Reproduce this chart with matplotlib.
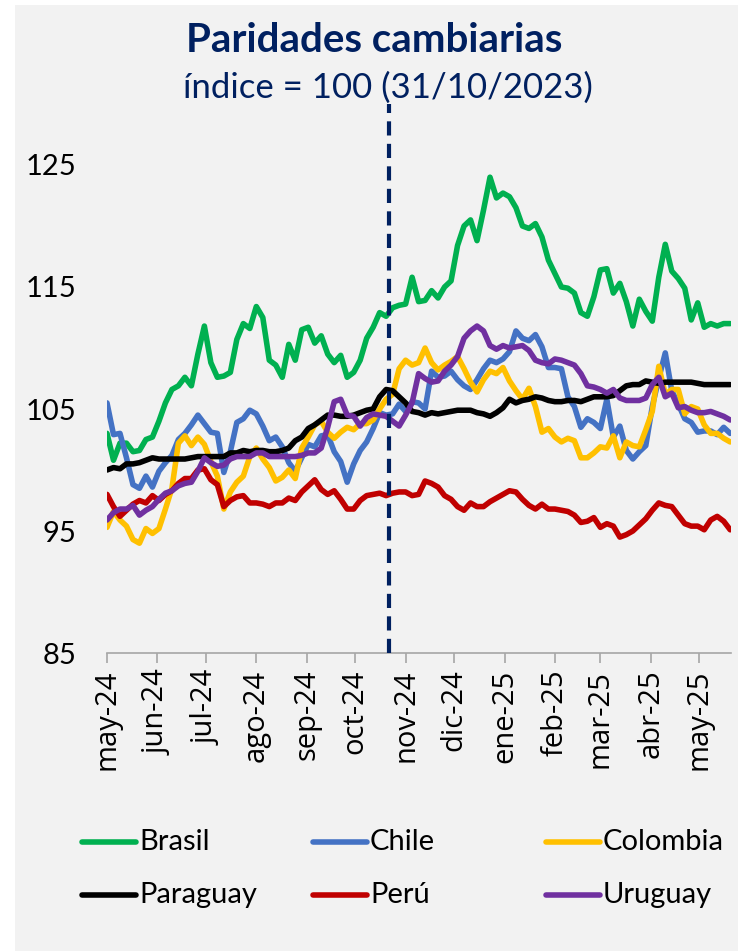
import pandas as pd
import matplotlib
matplotlib.use("Agg")
import matplotlib.pyplot as plt
from matplotlib.lines import Line2D
from matplotlib.patches import Rectangle

# muestras cada 4 dias desde el 01/05/2024
start = "2024-05-01"
n_points = 97
month_labels = ["may-24", "jun-24", "jul-24", "ago-24", "sep-24", "oct-24", "nov-24",
                "dic-24", "ene-25", "feb-25", "mar-25", "abr-25", "may-25"]
ref_date = "2024-10-22"

brasil = [103.0, 100.8, 102.2, 102.2, 101.5, 101.6, 102.5, 102.7, 104.0, 105.5,
          106.6, 106.9, 107.6, 106.9, 109.5, 111.8, 108.8, 107.6, 107.7, 108.0,
          110.7, 112.0, 111.6, 113.4, 112.5, 109.0, 108.6, 107.6, 110.3, 109.0,
          111.5, 111.7, 110.4, 111.0, 109.5, 108.8, 109.4, 107.6, 108.0, 109.0,
          110.8, 111.7, 112.9, 112.6, 113.3, 113.5, 113.6, 115.8, 113.8, 113.9,
          114.7, 114.1, 115.0, 115.5, 118.4, 120.0, 120.5, 118.8, 121.3, 124.0,
          122.3, 122.7, 122.4, 121.5, 120.0, 119.8, 120.2, 119.1, 117.2, 116.1,
          115.0, 114.9, 114.5, 112.9, 112.6, 114.2, 116.4, 116.5, 114.5, 115.3,
          113.8, 111.8, 114.0, 113.0, 112.2, 115.8, 118.5, 116.3, 115.7, 114.9,
          112.3, 113.7, 111.7, 112.0, 111.8, 112.0, 112.0]
chile = [105.5, 102.9, 103.0, 101.0, 98.8, 98.5, 99.5, 98.6, 99.9, 100.6,
         101.2, 102.5, 103.0, 103.7, 104.5, 103.8, 103.1, 103.0, 99.8, 101.5,
         103.9, 104.2, 104.9, 104.6, 103.6, 102.4, 102.7, 101.9, 100.6, 99.9,
         101.0, 102.1, 101.9, 102.8, 102.9, 101.5, 100.7, 99.0, 100.5, 101.6,
         102.3, 103.4, 104.7, 104.5, 104.6, 105.4, 104.8, 105.6, 105.5, 105.0,
         108.1, 107.6, 107.7, 108.1, 107.4, 106.9, 106.6, 107.4, 108.3, 109.0,
         108.8, 109.1, 109.7, 111.4, 110.8, 110.6, 111.1, 110.1, 108.4, 108.4,
         108.3, 106.0, 105.2, 103.5, 104.2, 103.9, 103.4, 105.8, 102.7, 103.6,
         101.6, 100.9, 101.5, 102.0, 105.2, 107.5, 109.6, 106.5, 105.4, 104.2,
         103.9, 103.1, 103.2, 103.2, 102.9, 103.5, 103.0]
colombia = [95.3, 96.6, 95.9, 95.4, 94.3, 94.0, 95.2, 94.8, 95.2, 96.8,
            98.5, 102.2, 102.8, 102.0, 102.7, 102.1, 100.7, 99.5, 96.8, 98.2,
            99.0, 99.5, 101.1, 101.8, 100.9, 100.2, 99.1, 99.4, 100.0, 99.3,
            101.8, 102.7, 103.7, 104.0, 103.1, 102.6, 103.1, 103.5, 103.3, 103.8,
            103.8, 104.1, 105.0, 105.8, 106.2, 108.3, 109.0, 108.6, 108.8, 110.0,
            108.8, 108.2, 108.6, 108.9, 109.3, 108.3, 107.2, 106.4, 107.4, 108.1,
            107.9, 108.4, 107.3, 106.5, 105.8, 106.7, 105.2, 103.1, 103.4, 102.7,
            102.3, 102.6, 102.4, 101.0, 101.0, 101.4, 101.9, 101.8, 102.8, 101.0,
            102.3, 102.0, 101.9, 103.3, 104.8, 108.5, 106.2, 106.6, 106.6, 104.6,
            105.2, 105.0, 103.7, 103.0, 103.0, 102.6, 102.3]
paraguay = [100.0, 100.2, 100.1, 100.5, 100.5, 100.6, 100.8, 101.0, 100.9, 100.9,
            100.9, 100.9, 100.9, 101.0, 101.1, 101.1, 101.1, 101.1, 101.1, 101.4,
            101.4, 101.6, 101.5, 101.6, 101.6, 101.5, 101.5, 101.6, 101.8, 102.4,
            102.7, 103.4, 103.7, 104.1, 104.5, 104.5, 104.4, 104.4, 104.5, 104.7,
            104.9, 105.0, 106.0, 106.6, 106.5, 106.0, 105.5, 104.8, 104.7, 104.5,
            104.7, 104.6, 104.7, 104.8, 104.9, 104.9, 104.9, 104.7, 104.6, 104.4,
            104.7, 105.1, 105.8, 105.5, 105.7, 105.8, 106.0, 105.9, 105.7, 105.6,
            105.6, 105.7, 105.7, 105.6, 105.8, 106.0, 106.0, 106.0, 106.1, 106.5,
            106.9, 107.0, 107.0, 107.3, 107.2, 107.1, 107.2, 107.2, 107.2, 107.2,
            107.2, 107.1, 107.0, 107.0, 107.0, 107.0, 107.0]
peru = [98.0, 97.0, 96.2, 96.7, 97.2, 97.5, 97.3, 97.9, 97.5, 98.0,
        98.3, 98.9, 99.3, 99.3, 100.0, 100.1, 99.2, 98.8, 97.0, 97.5,
        97.8, 97.9, 97.3, 97.3, 97.2, 97.0, 97.3, 97.3, 97.7, 97.5,
        98.2, 98.7, 99.2, 98.4, 98.0, 98.3, 97.6, 96.8, 96.8, 97.5,
        97.9, 98.0, 98.1, 97.9, 98.1, 98.2, 98.2, 97.9, 98.0, 99.1,
        98.9, 98.6, 97.9, 97.6, 97.0, 96.7, 97.3, 97.0, 97.0, 97.4,
        97.7, 98.0, 98.3, 98.2, 97.6, 97.1, 96.8, 97.2, 96.8, 96.8,
        96.7, 96.6, 96.3, 95.7, 95.8, 96.1, 95.3, 95.6, 95.4, 94.5,
        94.7, 95.0, 95.5, 96.0, 96.7, 97.3, 97.1, 97.0, 96.3, 95.6,
        95.4, 95.4, 95.1, 95.9, 96.2, 95.8, 95.1]
uruguay = [95.9, 96.5, 96.8, 96.8, 97.1, 96.3, 96.7, 97.0, 97.6, 98.1,
           98.3, 98.7, 98.9, 99.0, 99.9, 101.0, 100.6, 100.3, 100.4, 100.9,
           101.1, 101.1, 101.1, 101.4, 101.4, 101.1, 101.1, 101.1, 101.1, 101.1,
           101.2, 101.4, 101.4, 101.8, 103.5, 105.6, 105.8, 104.5, 104.4, 103.6,
           104.3, 104.6, 104.5, 104.4, 104.0, 103.6, 104.5, 105.5, 107.9, 107.5,
           107.2, 107.3, 108.1, 108.6, 109.3, 110.8, 111.4, 111.8, 111.4, 110.2,
           109.9, 110.2, 110.0, 110.1, 110.2, 109.8, 109.0, 108.8, 108.7, 109.1,
           109.0, 108.8, 108.6, 107.9, 106.9, 106.8, 106.6, 106.3, 106.6, 105.9,
           105.7, 105.7, 105.7, 105.9, 107.0, 107.6, 106.0, 106.3, 105.1, 105.2,
           104.9, 104.7, 104.7, 104.8, 104.6, 104.4, 104.1]

names = ["Brasil", "Chile", "Colombia", "Paraguay", "Perú", "Uruguay"]
series = [brasil, chile, colombia, paraguay, peru, uruguay]
colors = ["#00B050", "#4472C4", "#FFC000", "#000000", "#C00000", "#7030A0"]

dates = pd.date_range(start, periods=n_points, freq="4D")
month_ticks = pd.date_range(start, periods=len(month_labels), freq="MS")

navy = "#002060"
bg = "#F2F2F2"

fig = plt.figure(figsize=(7.38, 9.51), dpi=100)
fig.patch.set_facecolor("white")
fig.add_artist(Rectangle((15 / 738, 0), 1 - 15 / 738, 1 - 5 / 951,
                         transform=fig.transFigure, facecolor=bg, edgecolor="none", zorder=0))

ax = fig.add_axes([107 / 738, 1 - 653 / 951, 624 / 738, 549 / 951])
ax.set_facecolor(bg)

for vals, c in zip(series, colors):
    ax.plot(dates, vals, color=c, lw=4.0, solid_joinstyle="round", solid_capstyle="round")

ax.axvline(pd.Timestamp(ref_date), color=navy, lw=3, dashes=(3.4, 2.0), zorder=5)

ax.set_ylim(85, 130)
ax.set_yticks([85, 95, 105, 115, 125])
ax.set_xlim(dates[0], dates[-1] + pd.Timedelta(days=0.5))
ax.set_xticks(month_ticks)
ax.set_xticklabels(month_labels, rotation=90, fontsize=21, family="Open Sans")
for lab in ax.get_yticklabels():
    lab.set_family("Lato")
    lab.set_fontsize(21)

for s in ["left", "right", "top"]:
    ax.spines[s].set_visible(False)
ax.spines["bottom"].set_color("#A6A6A6")
ax.spines["bottom"].set_linewidth(1.2)
ax.tick_params(axis="x", length=7, width=1.2, color="#A6A6A6", pad=5)
ax.tick_params(axis="y", length=0, pad=22)

fig.text(0.507, 1 - 40 / 951, "Paridades cambiarias", ha="center", va="center",
         fontsize=29, fontweight="bold", color=navy, family="Lato")
fig.text(0.526, 1 - 88 / 951, "índice = 100 (31/10/2023)", ha="center", va="center",
         fontsize=25, color=navy, family="Lato")

# leyenda manual (3 columnas, 2 filas)
col_x = [82, 313, 546]
row_y = [842, 895]
for i, (name, c) in enumerate(zip(names, colors)):
    x0 = col_x[i % 3]
    y0 = row_y[i // 3]
    fig.add_artist(Line2D([x0 / 738, (x0 + 54) / 738], [1 - y0 / 951, 1 - y0 / 951],
                          transform=fig.transFigure, color=c, lw=4, solid_capstyle="round"))
    fig.text((x0 + 57) / 738, 1 - y0 / 951, name, ha="left", va="center",
             fontsize=21, family="Lato", color="black")

plt.savefig("out.png", dpi=100, facecolor="white")
